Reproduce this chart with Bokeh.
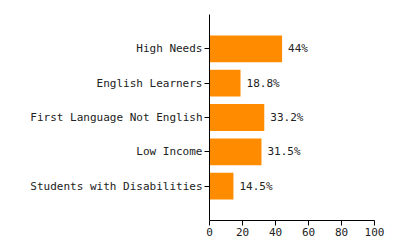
from bokeh.plotting import figure
from bokeh.models import ColumnDataSource, FactorRange
from bokeh.core.properties import value
from bokeh.embed import file_html
from bokeh.resources import INLINE

categories = ["High Needs", "English Learners", "First Language Not English",
              "Low Income", "Students with Disabilities"]
values = [44, 18.8, 33.2, 31.5, 14.5]
labels = ["44%", "18.8%", "33.2%", "31.5%", "14.5%"]
x_ticks = [0, 20, 40, 60, 80, 100]

FONT = "DejaVu Sans Mono"

src = ColumnDataSource(dict(cat=categories, val=values, lab=labels))

p = figure(width=400, height=250, output_backend="svg", toolbar_location=None,
           y_range=FactorRange(factors=list(reversed(categories)),
                               range_padding=0.5, range_padding_units="absolute"),
           x_range=(0, 100),
           min_border_left=209, min_border_right=26,
           min_border_top=14, min_border_bottom=30)

p.hbar(y="cat", right="val", left=0, height=0.78, source=src,
       color="#FF8C00", line_color=None)
p.text(x="val", y="cat", text="lab", source=src, x_offset=6,
       text_baseline="middle", text_align="left",
       text_font=value(FONT), text_font_size="11px", text_color="#222222")

p.outline_line_color = None
p.xgrid.visible = False
p.ygrid.visible = False
p.background_fill_color = "white"
p.border_fill_color = "white"

p.xaxis.ticker = x_ticks
p.xaxis.minor_tick_line_color = None
p.xaxis.major_tick_out = 5
p.xaxis.major_tick_in = 0
p.xaxis.major_label_standoff = 2
p.yaxis.major_tick_out = 5
p.yaxis.major_tick_in = 0
p.yaxis.major_label_standoff = 2
for ax in (p.xaxis, p.yaxis):
    ax.major_label_text_font = FONT
    ax.major_label_text_font_size = "11px"
    ax.major_label_text_color = "#222222"
    ax.axis_line_color = "black"
    ax.major_tick_line_color = "black"

open("out.html", "w").write(file_html(p, INLINE))
